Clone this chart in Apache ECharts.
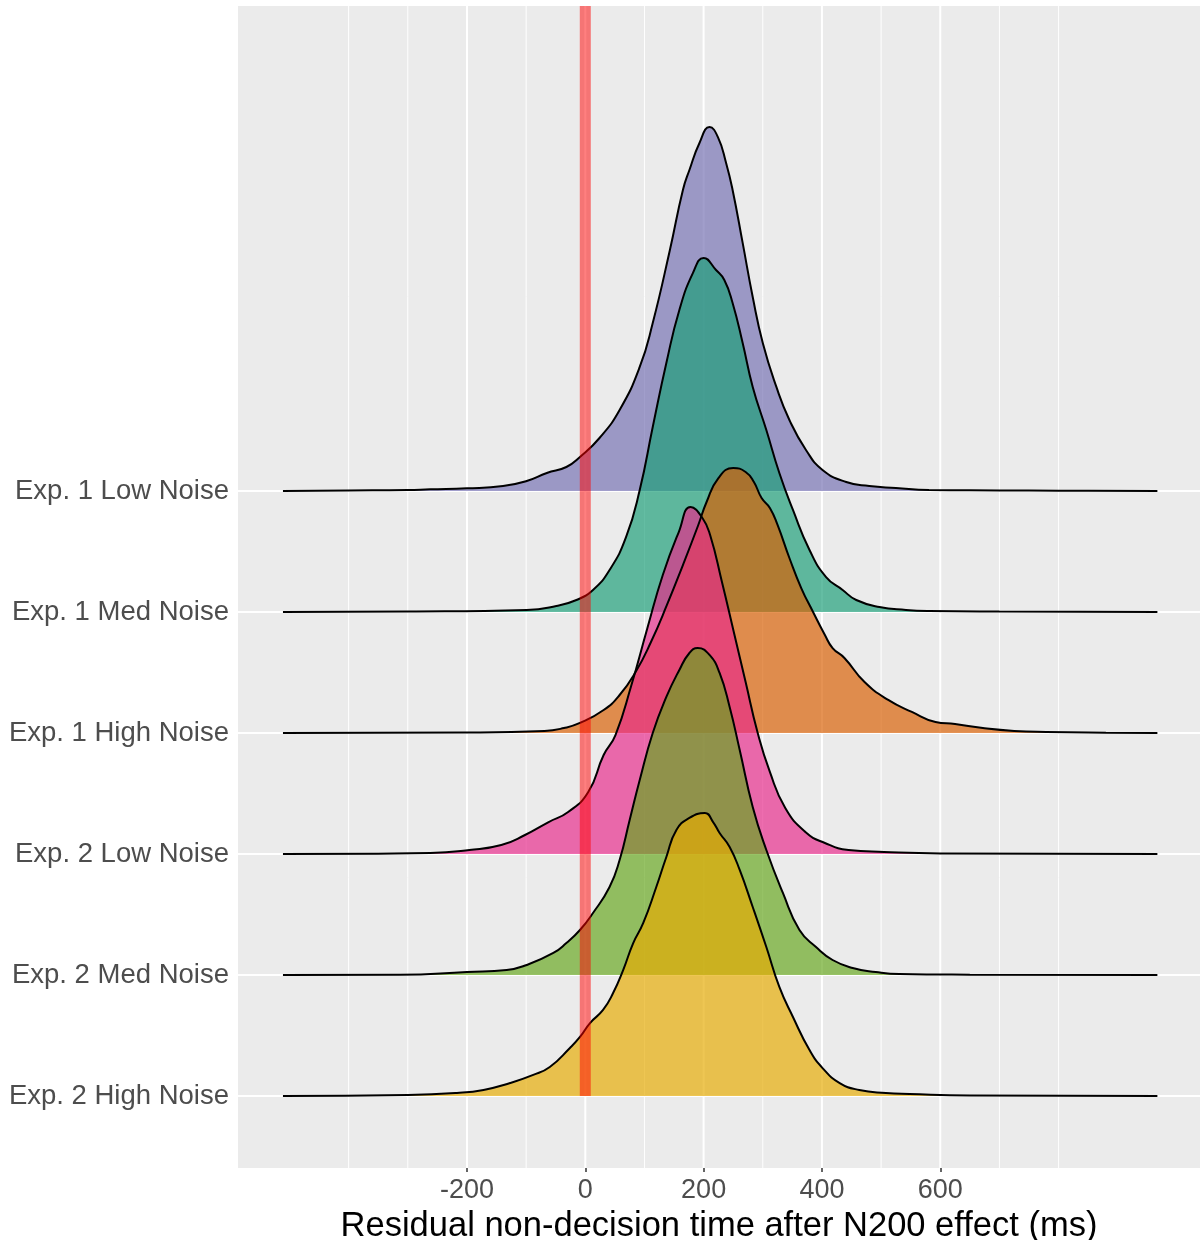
<!DOCTYPE html>
<html>
<head>
<meta charset="utf-8">
<script src="https://cdn.jsdelivr.net/npm/echarts@6/dist/echarts.min.js"></script>
<style>
  html, body { margin: 0; padding: 0; background: #ffffff; }
  #chart { width: 1200px; height: 1240px; }
</style>
</head>
<body>
<div id="chart"></div>
<script>
// ---- Data ----
const categories = ['Exp. 1 Low Noise', 'Exp. 1 Med Noise', 'Exp. 1 High Noise',
                    'Exp. 2 Low Noise', 'Exp. 2 Med Noise', 'Exp. 2 High Noise'];
const xTickLabels = [-200, 0, 200, 400, 600];
const xMinorGrid = [-400, -300, -100, 100, 300, 500, 700, 800];
const vlineX = 0;
const xTitle = 'Residual non-decision time after N200 effect (ms)';

// ridge heights (in row units) at x (ms)
const exp1Low = [[-511,0],[-400,0.004],[-300,0.008],[-262,0.014],[-200,0.022],[-139,0.041],[-99,0.083],[-65,0.149],[-32,0.198],[-9,0.281],[24,0.438],[58,0.669],[92,1.025],[114,1.388],[143,1.992],[165,2.488],[176,2.653],[193,2.876],[210,3.008],[224,2.926],[238,2.711],[249,2.488],[266,2.050],[283,1.603],[300,1.223],[323,0.860],[345,0.587],[373,0.339],[401,0.174],[441,0.074],[480,0.041],[525,0.025],[581,0.008],[650,0.006],[750,0.003],[850,0.002],[967,0]];
const exp1Med = [[-511,0],[-300,0.004],[-99,0.017],[-49,0.050],[-15,0.099],[13,0.182],[41,0.347],[69,0.620],[92,1.008],[114,1.529],[137,2.058],[159,2.496],[182,2.802],[200,2.926],[221,2.826],[235,2.744],[249,2.554],[266,2.223],[283,1.860],[306,1.504],[328,1.149],[351,0.843],[379,0.512],[407,0.289],[435,0.182],[458,0.099],[497,0.041],[542,0.017],[581,0.008],[700,0.003],[967,0]];
const exp1High = [[-511,0],[-200,0.004],[-69,0.017],[-36,0.041],[-9,0.083],[31,0.190],[58,0.314],[85,0.504],[111,0.752],[138,1.058],[165,1.388],[191,1.719],[205,1.909],[225,2.107],[250,2.190],[271,2.157],[285,2.074],[298,1.942],[312,1.860],[325,1.719],[345,1.446],[365,1.198],[385,1.000],[405,0.810],[418,0.702],[438,0.620],[472,0.421],[512,0.273],[552,0.174],[592,0.091],[625,0.074],[672,0.041],[725,0.017],[779,0.008],[880,0.002],[967,0]];
const exp2Low = [[-511,0],[-350,0.003],[-262,0.008],[-196,0.033],[-142,0.074],[-102,0.157],[-62,0.264],[-29,0.347],[5,0.512],[31,0.818],[51,0.983],[78,1.397],[105,1.868],[131,2.306],[158,2.661],[178,2.868],[198,2.777],[211,2.636],[231,2.248],[251,1.835],[271,1.421],[291,1.008],[312,0.678],[338,0.380],[372,0.182],[405,0.091],[445,0.033],[505,0.017],[600,0.005],[967,0]];
const exp2Med = [[-511,0],[-313,0.002],[-200,0.025],[-133,0.041],[-99,0.083],[-54,0.182],[-32,0.264],[-9,0.372],[13,0.512],[41,0.727],[58,0.950],[75,1.281],[92,1.612],[114,2.000],[137,2.298],[159,2.521],[176,2.661],[190,2.702],[210,2.645],[227,2.496],[244,2.215],[261,1.860],[283,1.388],[306,1.033],[334,0.678],[362,0.372],[390,0.231],[418,0.124],[452,0.058],[491,0.025],[531,0.008],[650,0.003],[967,0]];
const exp2High = [[-511,0],[-300,0.008],[-217,0.025],[-172,0.050],[-127,0.107],[-88,0.174],[-60,0.240],[-26,0.397],[-9,0.488],[8,0.603],[30,0.711],[47,0.851],[64,1.041],[81,1.264],[98,1.430],[120,1.727],[137,1.975],[154,2.198],[176,2.298],[202,2.339],[216,2.264],[227,2.174],[244,2.058],[261,1.868],[283,1.562],[306,1.231],[328,0.901],[351,0.653],[379,0.380],[401,0.231],[430,0.107],[463,0.050],[508,0.025],[548,0.017],[650,0.005],[967,0]];

const ridges = [exp1Low, exp1Med, exp1High, exp2Low, exp2Med, exp2High];
const fills = ['#7570B3', '#1B9E77', '#D95F02', '#E7298A', '#66A61E', '#E6AB02'];

// ---- Layout / scale settings ----
const X_MIN = -587, X_MAX = 1039;
const Y_MIN = 0.405, Y_MAX = 10.008;
const BAND_HALF = 9.3;
const FONT = '"Liberation Sans", Arial, Helvetica, sans-serif';
const nRows = categories.length;
const baseOf = i => nRows - i;          // row baseline value for category i
const rowValues = categories.map((c, i) => baseOf(i));

function hexA(hex, a) {
  const r = parseInt(hex.slice(1, 3), 16), g = parseInt(hex.slice(3, 5), 16), b = parseInt(hex.slice(5, 7), 16);
  return 'rgba(' + r + ',' + g + ',' + b + ',' + a + ')';
}

const series = [];

// grid lines (drawn under ridges)
series.push({
  type: 'custom', z: 1, silent: true, animation: false,
  data: xMinorGrid.map(v => [v, 1, 0]).concat(xTickLabels.map(v => [v, 1, 1])),
  renderItem: function (params, api) {
    const v = api.value(0), major = api.value(2);
    const p1 = api.coord([v, Y_MIN]), p2 = api.coord([v, Y_MAX]);
    return { type: 'line', shape: { x1: p1[0], y1: p1[1], x2: p2[0], y2: p2[1] },
             style: { stroke: '#FFFFFF', lineWidth: major ? 2 : 1 } };
  }
});
series.push({
  type: 'custom', z: 1, silent: true, animation: false,
  data: rowValues.map(v => [0, v]),
  renderItem: function (params, api) {
    const v = api.value(1);
    const p1 = api.coord([X_MIN, v]), p2 = api.coord([X_MAX, v]);
    return { type: 'line', shape: { x1: p1[0], y1: p1[1], x2: p2[0], y2: p2[1] },
             style: { stroke: '#FFFFFF', lineWidth: 2 } };
  }
});

// ridges
ridges.forEach((r, i) => {
  const base = baseOf(i);
  series.push({
    name: categories[i], type: 'line', z: 2, animation: false, silent: true,
    data: r.map(p => [p[0], base + p[1]]),
    showSymbol: false, symbol: 'none',
    smooth: 0.5,
    lineStyle: { color: '#000000', width: 2 },
    itemStyle: { color: fills[i] },
    areaStyle: { color: hexA(fills[i], 0.68), opacity: 1, origin: base }
  });
});

// red vertical band
series.push({
  type: 'custom', z: 5, silent: true, animation: false,
  data: [[vlineX, 1]],
  renderItem: function (params, api) {
    const x = api.value(0);
    const p1 = api.coord([x - BAND_HALF, 1]), p2 = api.coord([x + BAND_HALF, Y_MAX]);
    return { type: 'rect', shape: { x: p1[0], y: p2[1], width: p2[0] - p1[0], height: p1[1] - p2[1] },
             style: { fill: 'rgba(255,0,0,0.5)' } };
  }
});

const chart = echarts.init(document.getElementById('chart'), null, { renderer: 'canvas' });
chart.setOption({
  backgroundColor: '#FFFFFF',
  animation: false,
  grid: { left: 238, right: 0, top: 6, bottom: 72, show: true, backgroundColor: '#EBEBEB', borderWidth: 0,
          containLabel: false, outerBoundsMode: 'none' },
  xAxis: {
    type: 'value', min: X_MIN, max: X_MAX,
    axisLine: { show: false },
    splitLine: { show: false },
    axisTick: { show: true, customValues: xTickLabels, length: 4, lineStyle: { color: '#333333', width: 1.5 } },
    axisLabel: { customValues: xTickLabels, fontSize: 27, color: '#4D4D4D', fontFamily: FONT, margin: 9 },
    name: xTitle, nameLocation: 'middle', nameGap: 30,
    nameTextStyle: { fontSize: 34.5, color: '#000000', fontFamily: FONT }
  },
  yAxis: {
    type: 'value', min: Y_MIN, max: Y_MAX,
    axisLine: { show: false },
    splitLine: { show: false },
    axisTick: { show: true, customValues: rowValues, length: 4, lineStyle: { color: '#333333', width: 1.5 } },
    axisLabel: { customValues: rowValues, fontSize: 27.5, color: '#4D4D4D', fontFamily: FONT, margin: 9,
                 formatter: v => categories[nRows - Math.round(v)] }
  },
  series: series
});
</script>
</body>
</html>
